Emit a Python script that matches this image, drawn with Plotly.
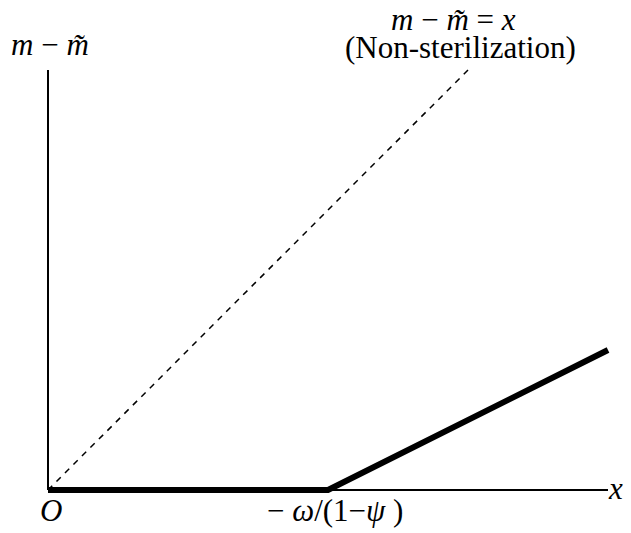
import plotly.graph_objects as go

W, H = 631, 533
# data (in axis units)
policy_x = [0.0, 1.0, 2.0]
policy_y = [0.0, 0.0, 0.5]
nonster_x = [0.0, 1.5]
nonster_y = [0.0, 1.5]
xaxis_end = 2.0
yaxis_end = 1.5

PX = 280.0  # pixels per unit
OX, OY = 48, 490  # origin in pixels

xr = [-OX / PX, (W - OX) / PX]
yr = [-(H - OY) / PX, OY / PX]

fig = go.Figure()
# axes
fig.add_trace(go.Scatter(x=[0, xaxis_end], y=[0, 0], mode="lines",
                         line=dict(color="black", width=2), hoverinfo="skip"))
fig.add_trace(go.Scatter(x=[0, 0], y=[0, yaxis_end], mode="lines",
                         line=dict(color="black", width=2), hoverinfo="skip"))
# non-sterilization dashed line
fig.add_trace(go.Scatter(x=nonster_x, y=nonster_y, mode="lines",
                         line=dict(color="black", width=1.5, dash="6px,6px"), hoverinfo="skip"))
# policy line
fig.add_trace(go.Scatter(x=policy_x, y=policy_y, mode="lines",
                         line=dict(color="black", width=6), hoverinfo="skip"))

FONT = dict(family="Liberation Serif", size=31, color="black")

def ann(text, px, py, size=31):
    fig.add_annotation(text=text, x=px / W, y=1 - py / H, xref="paper", yref="paper",
                       showarrow=False, xanchor="center", yanchor="middle",
                       font=dict(FONT, size=size))

ann("<i>m</i> − <i>m̃</i>", 50, 44)
ann("<i>m</i> − <i>m̃</i> = <i>x</i>", 453, 20)
ann("(Non-sterilization)", 460, 47)
ann("<i>O</i>", 51, 511)
ann("− <i>ω</i>/(1−<i>ψ</i> )", 335, 510)
ann("<i>x</i>", 615, 488)

fig.update_layout(width=W, height=H, margin=dict(l=0, r=0, t=0, b=0),
                  paper_bgcolor="white", plot_bgcolor="white", showlegend=False,
                  xaxis=dict(range=xr, visible=False, fixedrange=True),
                  yaxis=dict(range=yr, visible=False, fixedrange=True))
fig.write_html("out.html", config={"displayModeBar": False},
               post_script="document.body.style.margin='0';document.body.style.overflow='hidden';")
